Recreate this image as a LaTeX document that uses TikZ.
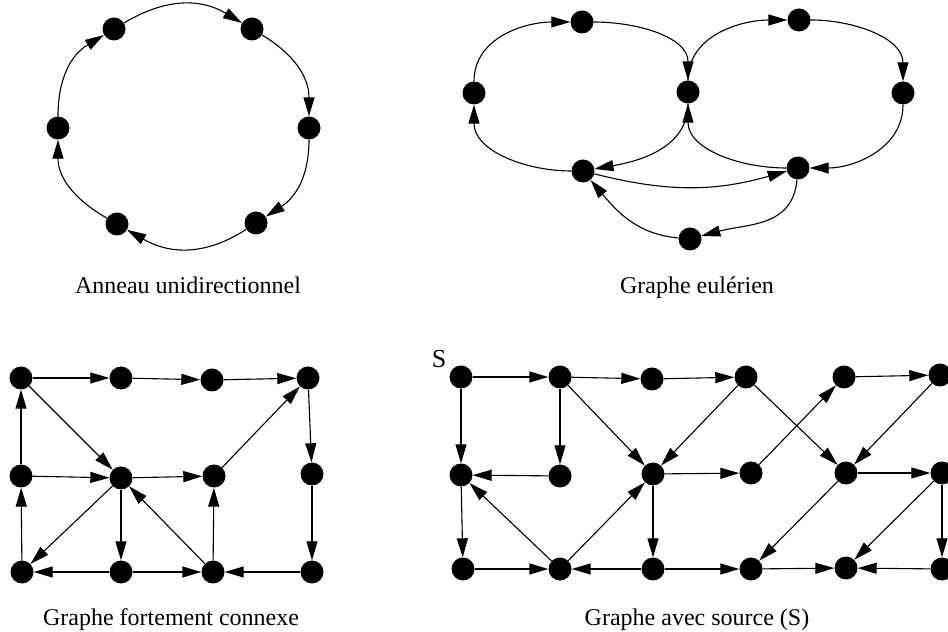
\documentclass[tikz,border=0pt]{standalone}
\usepackage{fontspec}
\setmainfont{Liberation Serif}
\usetikzlibrary{arrows.meta}
\begin{document}
\begin{tikzpicture}[x=1pt,y=1pt,
  vertex/.style={circle,fill=black,inner sep=0pt,minimum size=23pt},
  arc/.style={line width=1.1pt,-{Triangle[length=19pt,width=11pt]}},
  caption/.style={font=\fontsize{24}{28}\selectfont,anchor=base,inner sep=0pt}]
\useasboundingbox (0,0) rectangle (948,632);

% ---------- unidirectional ring ----------
\node[vertex] (n1) at (114,603) {};
\node[vertex] (n2) at (252,603) {};
\node[vertex] (n3) at (309,504) {};
\node[vertex] (n4) at (256,409) {};
\node[vertex] (n5) at (117,408) {};
\node[vertex] (n6) at (58,504) {};
\draw[arc] (n1) to[out=31,in=149,looseness=1.05] (n2);
\draw[arc] (n2) to[out=-31,in=90,looseness=1.05] (n3);
\draw[arc] (n3) to[out=-90,in=33,looseness=1.05] (n4);
\draw[arc] (n4) to[out=-147,in=-30,looseness=1.05] (n5);
\draw[arc] (n5) to[out=150,in=-90,looseness=1.05] (n6);
\draw[arc] (n6) to[out=90,in=211,looseness=1.05] (n1);
\node[caption] (capRing) at (188,338) {Anneau unidirectionnel};

% ---------- Eulerian graph ----------
\node[vertex] (e1) at (582,610) {};
\node[vertex] (e2) at (474,539) {};
\node[vertex] (e3) at (688,540) {};
\node[vertex] (e4) at (799,612) {};
\node[vertex] (e5) at (903,539) {};
\node[vertex] (e6) at (583,461) {};
\node[vertex] (e7) at (798,464) {};
\node[vertex] (e8) at (690,393) {};
\draw[arc] (e2) to[out=90,in=180] (e1);
\draw[arc] (e1) to[out=0,in=90] (e3);
\draw[arc] (e3) to[out=270,in=10] (e6);
\draw[arc] (e6) to[out=180,in=270] (e2);
\draw[arc] (e3) to[out=90,in=180] (e4);
\draw[arc] (e4) to[out=0,in=90] (e5);
\draw[arc] (e5) to[out=270,in=0] (e7);
\draw[arc] (e7) to[out=180,in=270] (e3);
\draw[arc] (e6) to[bend right=15] (e7);
\draw[arc] (e7) to[out=-95,in=15,looseness=1.1] (e8);
\draw[arc] (e8) to[out=175,in=-50] (e6);
\node[caption] (capEuler) at (697,338) {Graphe eulérien};

% ---------- strongly connected graph ----------
\node[vertex] (a1) at (21,254) {};
\node[vertex] (a2) at (121,254) {};
\node[vertex] (a3) at (212,252) {};
\node[vertex] (a4) at (308,254) {};
\node[vertex] (b1) at (21,156) {};
\node[vertex] (b2) at (121,154) {};
\node[vertex] (b3) at (214,156) {};
\node[vertex] (b4) at (312,158) {};
\node[vertex] (c1) at (22,60) {};
\node[vertex] (c2) at (121,60) {};
\node[vertex] (c3) at (213,60) {};
\node[vertex] (c4) at (312,60) {};
\foreach \u/\v in {a1/a2,a2/a3,a3/a4,a1/b2,a4/b4,b3/a4,b1/a1,b1/b2,b2/b3,
                   b2/c1,b2/c2,c3/b2,c3/b3,c1/b1,b4/c4,c2/c1,c2/c3,c4/c3}
  \draw[arc] (\u) -- (\v);
\node[caption] (capStrong) at (171,6) {Graphe fortement connexe};

% ---------- graph with a source ----------
\node[vertex] (s1) at (461,255) {};
\node[vertex] (s2) at (560,255) {};
\node[vertex] (s3) at (652,253) {};
\node[vertex] (s4) at (746,255) {};
\node[vertex] (s5) at (844,255) {};
\node[vertex] (s6) at (940,257) {};
\node[vertex] (t1) at (461,157) {};
\node[vertex] (t2) at (560,156) {};
\node[vertex] (t3) at (653,158) {};
\node[vertex] (t4) at (751,159) {};
\node[vertex] (t5) at (846,159) {};
\node[vertex] (t6) at (942,159) {};
\node[vertex] (u1) at (463,63) {};
\node[vertex] (u2) at (560,63) {};
\node[vertex] (u3) at (653,63) {};
\node[vertex] (u4) at (751,63) {};
\node[vertex] (u5) at (846,64) {};
\node[vertex] (u6) at (942,63) {};
\foreach \u/\v in {s1/s2,s2/s3,s3/s4,s1/t1,s2/t2,t2/t1,s2/t3,s4/t3,s4/t5,
                   t4/s5,s5/s6,s6/t5,t3/t4,t5/t6,t1/u1,u2/t1,u2/t3,t3/u3,
                   t5/u4,t6/u5,t6/u6,u1/u2,u3/u2,u3/u4,u4/u5,u6/u5}
  \draw[arc] (\u) -- (\v);
\node[font=\fontsize{26}{30}\selectfont,inner sep=0pt] (srcLabel) at (439,273) {S};
\node[caption] (capSource) at (697,6) {Graphe avec source (S)};
\end{tikzpicture}
\end{document}
